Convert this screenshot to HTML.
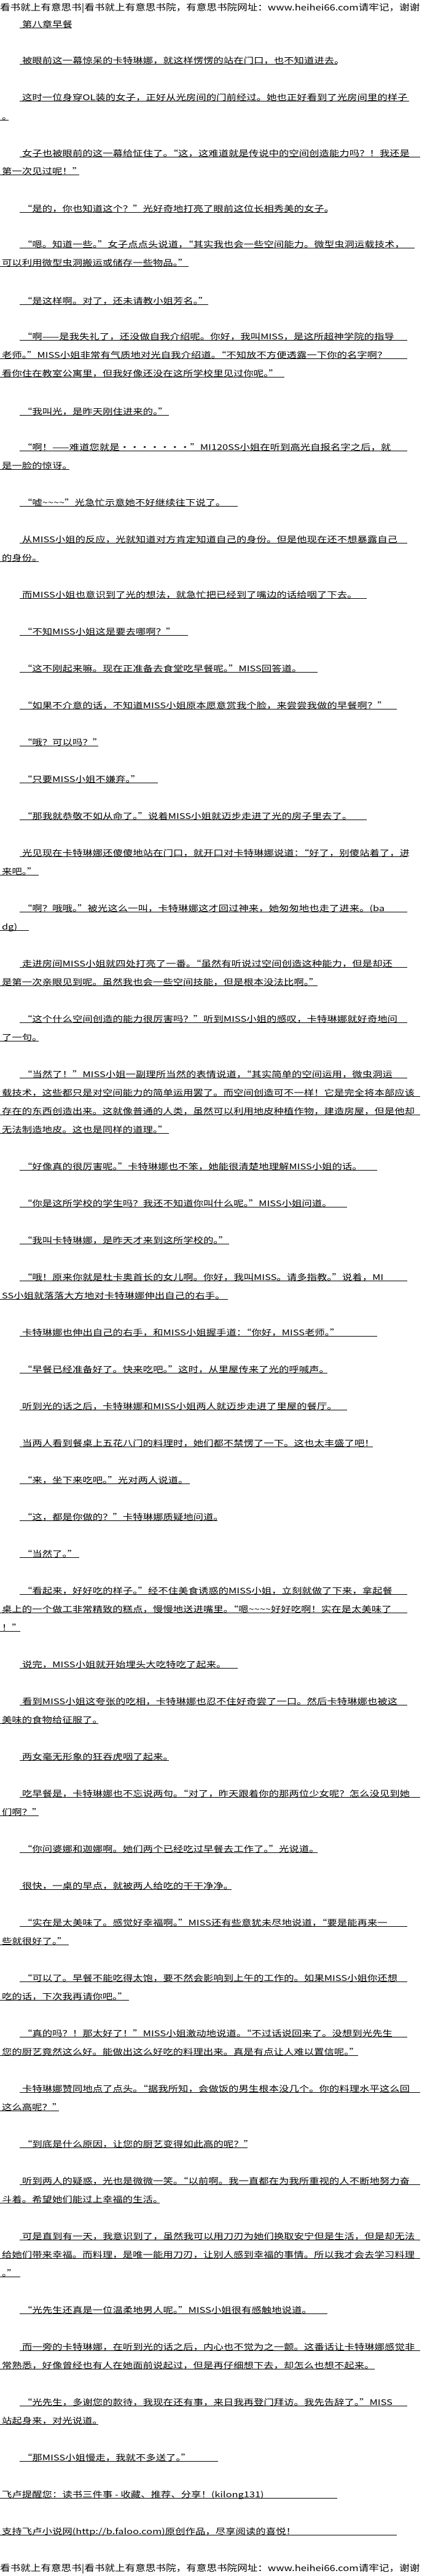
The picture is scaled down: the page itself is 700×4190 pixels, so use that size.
<!DOCTYPE html>
<html><head><meta charset="utf-8">
<style>
html,body{margin:0;padding:0;background:#fff}
body{width:700px;height:4190px;position:relative;overflow:hidden;color:#000;font-family:"Noto Sans CJK SC","WenQuanYi Zen Hei",sans-serif}
.l{position:absolute;height:15px;border-bottom:1px solid #000;white-space:nowrap;font-size:16.4px;line-height:15px;box-sizing:content-box}
.l span{display:inline-block;transform:scaleY(.8);transform-origin:50% 100%}
.i{left:32px;padding-left:4px}
.n{left:0;padding-left:3px}
.h{position:absolute;left:0;white-space:nowrap;font-size:16.6px;line-height:16px;letter-spacing:0}
.h span{display:inline-block;transform:scaleY(.85)}
</style></head><body>
<div class="h" style="top:3px"><span>看书就上有意思书|看书就上有意思书院，有意思书院网址：www.heihei66.com请牢记，谢谢</span></div>

<div class="l i" style="top:30px;width:81px"><span>第八章早餐</span></div>
<div class="l i" style="top:89px;width:513px"><span>被眼前这一幕惊呆的卡特琳娜，就这样愣愣的站在门口，也不知道进去。</span></div>
<div class="l i" style="top:149px;width:630px"><span>这时一位身穿OL装的女子，正好从光房间的门前经过。她也正好看到了光房间里的样子</span></div>
<div class="l n" style="top:180px;width:11px"><span>。</span></div>
<div class="l i" style="top:240px;width:648px"><span>女子也被眼前的这一幕给怔住了。“这，这难道就是传说中的空间创造能力吗？！我还是</span></div>
<div class="l n" style="top:269px;width:126px"><span>第一次见过呢！”</span></div>
<div class="l i" style="top:330px;width:497px"><span>“是的，你也知道这个？”光好奇地打亮了眼前这位长相秀美的女子。</span></div>
<div class="l i" style="top:388px;width:639px"><span>“嗯。知道一些。”女子点点头说道，“其实我也会一些空间能力。微型虫洞运载技术，</span></div>
<div class="l n" style="top:418px;width:304px"><span>可以利用微型虫洞搬运或储存一些物品。”</span></div>
<div class="l i" style="top:480px;width:303px"><span>“是这样啊。对了，还未请教小姐芳名。”</span></div>
<div class="l i" style="top:538px;width:627px"><span>“啊——是我失礼了，还没做自我介绍呢。你好，我叫MISS，是这所超神学院的指导</span></div>
<div class="l n" style="top:568px;width:660px"><span>老师。”MISS小姐非常有气质地对光自我介绍道。“不知放不方便透露一下你的名字啊？</span></div>
<div class="l n" style="top:598px;width:460px"><span>看你住在教室公寓里，但我好像还没在这所学校里见过你呢。”</span></div>
<div class="l i" style="top:660px;width:239px"><span>“我叫光，是昨天刚住进来的。”</span></div>
<div class="l i" style="top:718px;width:627px"><span>“啊！——难道您就是·······”MI120SS小姐在听到高光自报名字之后，就</span></div>
<div class="l n" style="top:748px;width:110px"><span>是一脸的惊讶。</span></div>
<div class="l i" style="top:808px;width:351px"><span>“嘘~~~~”光急忙示意她不好继续往下说了。</span></div>
<div class="l i" style="top:868px;width:627px"><span>从MISS小姐的反应，光就知道对方肯定知道自己的身份。但是他现在还不想暴露自己</span></div>
<div class="l n" style="top:898px;width:60px"><span>的身份。</span></div>
<div class="l i" style="top:958px;width:561px"><span>而MISS小姐也意识到了光的想法，就急忙把已经到了嘴边的话给咽了下去。</span></div>
<div class="l i" style="top:1018px;width:270px"><span>“不知MISS小姐这是要去哪啊？”</span></div>
<div class="l i" style="top:1078px;width:481px"><span>“这不刚起来嘛。现在正准备去食堂吃早餐呢。”MISS回答道。</span></div>
<div class="l i" style="top:1138px;width:610px"><span>“如果不介意的话，不知道MISS小姐原本愿意赏我个脸，来尝尝我做的早餐啊？”</span></div>
<div class="l i" style="top:1198px;width:124px"><span>“哦？可以吗？”</span></div>
<div class="l i" style="top:1258px;width:221px"><span>“只要MISS小姐不嫌弃。”</span></div>
<div class="l i" style="top:1318px;width:561px"><span>“那我就恭敬不如从命了。”说着MISS小姐就迈步走进了光的房子里去了。</span></div>
<div class="l i" style="top:1378px;width:627px"><span>光见现在卡特琳娜还傻傻地站在门口，就开口对卡特琳娜说道：“好了，别傻站着了，进</span></div>
<div class="l n" style="top:1408px;width:60px"><span>来吧。”</span></div>
<div class="l i" style="top:1468px;width:627px"><span>“啊？哦哦。”被光这么一叫，卡特琳娜这才回过神来，她匆匆地也走了进来。(ba</span></div>
<div class="l n" style="top:1498px;width:44px"><span>dg)</span></div>
<div class="l i" style="top:1558px;width:627px"><span>走进房间MISS小姐就四处打亮了一番。“虽然有听说过空间创造这种能力，但是却还</span></div>
<div class="l n" style="top:1588px;width:514px"><span>是第一次亲眼见到呢。虽然我也会一些空间技能，但是根本没法比啊。”</span></div>
<div class="l i" style="top:1648px;width:627px"><span>“这个什么空间创造的能力很厉害吗？”听到MISS小姐的感叹，卡特琳娜就好奇地问</span></div>
<div class="l n" style="top:1678px;width:60px"><span>了一句。</span></div>
<div class="l i" style="top:1738px;width:627px"><span>“当然了！”MISS小姐一副理所当然的表情说道，“其实简单的空间运用，微虫洞运</span></div>
<div class="l n" style="top:1768px;width:681px"><span>载技术，这些都只是对空间能力的简单运用罢了。而空间创造可不一样！它是完全将本部应该</span></div>
<div class="l n" style="top:1798px;width:681px"><span>存在的东西创造出来。这就像普通的人类，虽然可以利用地皮种植作物，建造房屋，但是他却</span></div>
<div class="l n" style="top:1828px;width:272px"><span>无法制造地皮。这也是同样的道理。”</span></div>
<div class="l i" style="top:1888px;width:578px"><span>“好像真的很厉害呢。”卡特琳娜也不笨，她能很清楚地理解MISS小姐的话。</span></div>
<div class="l i" style="top:1948px;width:529px"><span>“你是这所学校的学生吗？我还不知道你叫什么呢。”MISS小姐问道。</span></div>
<div class="l i" style="top:2008px;width:337px"><span>“我叫卡特琳娜，是昨天才来到这所学校的。”</span></div>
<div class="l i" style="top:2068px;width:627px"><span>“哦！原来你就是杜卡奥首长的女儿啊。你好，我叫MISS。请多指教。”说着，MI</span></div>
<div class="l n" style="top:2098px;width:368px"><span>SS小姐就落落大方地对卡特琳娜伸出自己的右手。</span></div>
<div class="l i" style="top:2158px;width:578px"><span>卡特琳娜也伸出自己的右手，和MISS小姐握手道：“你好，MISS老师。”</span></div>
<div class="l i" style="top:2218px;width:497px"><span>“早餐已经准备好了。快来吃吧。”这时，从里屋传来了光的呼喊声。</span></div>
<div class="l i" style="top:2278px;width:529px"><span>听到光的话之后，卡特琳娜和MISS小姐两人就迈步走进了里屋的餐厅。</span></div>
<div class="l i" style="top:2338px;width:571px"><span>当两人看到餐桌上五花八门的料理时，她们都不禁愣了一下。这也太丰盛了吧！</span></div>
<div class="l i" style="top:2398px;width:273px"><span>“来，坐下来吃吧。”光对两人说道。</span></div>
<div class="l i" style="top:2458px;width:318px"><span>“这，都是你做的？”卡特琳娜质疑地问道。</span></div>
<div class="l i" style="top:2518px;width:93px"><span>“当然了。”</span></div>
<div class="l i" style="top:2578px;width:627px"><span>“看起来，好好吃的样子。”经不住美食诱惑的MISS小姐，立刻就做了下来，拿起餐</span></div>
<div class="l n" style="top:2608px;width:660px"><span>桌上的一个做工非常精致的糕点，慢慢地送进嘴里。“嗯~~~~好好吃啊！实在是太美味了</span></div>
<div class="l n" style="top:2638px;width:30px"><span>！”</span></div>
<div class="l i" style="top:2698px;width:351px"><span>说完，MISS小姐就开始埋头大吃特吃了起来。</span></div>
<div class="l i" style="top:2758px;width:627px"><span>看到MISS小姐这夸张的吃相，卡特琳娜也忍不住好奇尝了一口。然后卡特琳娜也被这</span></div>
<div class="l n" style="top:2788px;width:157px"><span>美味的食物给征服了。</span></div>
<div class="l i" style="top:2848px;width:239px"><span>两女毫无形象的狂吞虎咽了起来。</span></div>
<div class="l i" style="top:2908px;width:648px"><span>吃早餐是，卡特琳娜也不忘说两句。“对了，昨天跟着你的那两位少女呢？怎么没见到她</span></div>
<div class="l n" style="top:2938px;width:60px"><span>们啊？”</span></div>
<div class="l i" style="top:2998px;width:481px"><span>“你问婆娜和迦娜啊。她们两个已经吃过早餐去工作了。”光说道。</span></div>
<div class="l i" style="top:3058px;width:341px"><span>很快，一桌的早点，就被两人给吃的干干净净。</span></div>
<div class="l i" style="top:3118px;width:627px"><span>“实在是太美味了。感觉好幸福啊。”MISS还有些意犹未尽地说道，“要是能再来一</span></div>
<div class="l n" style="top:3148px;width:109px"><span>些就很好了。”</span></div>
<div class="l i" style="top:3208px;width:627px"><span>“可以了。早餐不能吃得太饱，要不然会影响到上午的工作的。如果MISS小姐你还想</span></div>
<div class="l n" style="top:3238px;width:207px"><span>吃的话，下次我再请你吧。”</span></div>
<div class="l i" style="top:3298px;width:627px"><span>“真的吗？！那太好了！”MISS小姐激动地说道。“不过话说回来了。没想到光先生</span></div>
<div class="l n" style="top:3328px;width:580px"><span>您的厨艺竟然这么好。能做出这么好吃的料理出来。真是有点让人难以置信呢。”</span></div>
<div class="l i" style="top:3388px;width:648px"><span>卡特琳娜赞同地点了点头。“据我所知，会做饭的男生根本没几个。你的料理水平这么回</span></div>
<div class="l n" style="top:3418px;width:93px"><span>这么高呢？”</span></div>
<div class="l i" style="top:3478px;width:367px"><span>“到底是什么原因，让您的厨艺变得如此高的呢？”</span></div>
<div class="l i" style="top:3538px;width:648px"><span>听到两人的疑惑，光也是微微一笑。“以前啊。我一直都在为我所重视的人不断地努力奋</span></div>
<div class="l n" style="top:3568px;width:257px"><span>斗着。希望她们能过上幸福的生活。</span></div>
<div class="l i" style="top:3628px;width:648px"><span>可是直到有一天，我意识到了，虽然我可以用刀刃为她们换取安宁但是生活，但是却无法</span></div>
<div class="l n" style="top:3658px;width:681px"><span>给她们带来幸福。而料理，是唯一能用刀刃，让别人感到幸福的事情。所以我才会去学习料理</span></div>
<div class="l n" style="top:3688px;width:30px"><span>。”</span></div>
<div class="l i" style="top:3748px;width:497px"><span>“光先生还真是一位温柔地男人呢。”MISS小姐很有感触地说道。</span></div>
<div class="l i" style="top:3808px;width:648px"><span>而一旁的卡特琳娜，在听到光的话之后，内心也不觉为之一颤。这番话让卡特琳娜感觉非</span></div>
<div class="l n" style="top:3838px;width:607px"><span>常熟悉，好像曾经也有人在她面前说起过，但是再仔细想下去，却怎么也想不起来。</span></div>
<div class="l i" style="top:3898px;width:627px"><span>“光先生，多谢您的款待，我现在还有事，来日我再登门拜访。我先告辞了。”MISS</span></div>
<div class="l n" style="top:3928px;width:157px"><span>站起身来，对光说道。</span></div>
<div class="l i" style="top:3988px;width:319px"><span>“那MISS小姐慢走，我就不多送了。”</span></div>
<div class="l n" style="top:4048px;width:546px"><span>飞卢提醒您：读书三件事 - 收藏、推荐、分享！(kilong131)</span></div>
<div class="l n" style="top:4108px;width:643px"><span>支持飞卢小说网(http://b.faloo.com)原创作品，尽享阅读的喜悦！</span></div>

<div class="h" style="top:4168px"><span>看书就上有意思书|看书就上有意思书院，有意思书院网址：www.heihei66.com请牢记，谢谢</span></div>
</body></html>
